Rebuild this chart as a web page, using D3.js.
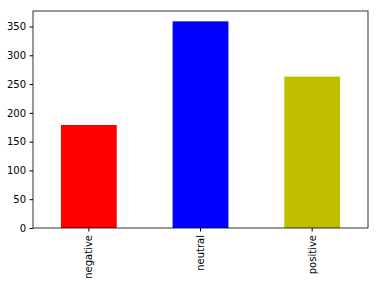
<!DOCTYPE html>
<html>
<head>
<meta charset="utf-8">
<script src="https://cdn.jsdelivr.net/npm/d3@7"></script>
<style>
  body { margin: 0; background: #fff; }
  text { font-family: "DejaVu Sans", sans-serif; }
</style>
</head>
<body>
<svg id="chart"></svg>
<script>
const categories = ['negative', 'neutral', 'positive']
const counts = [179, 359, 263]
const barColors = ['#ff0000', '#0000ff', '#bfbf00']
const yTicks = [0, 50, 100, 150, 200, 250, 300, 350]

const width = 378, height = 286
const margin = {top: 11, right: 10, bottom: 58, left: 33}
const innerW = width - margin.left - margin.right
const innerH = height - margin.top - margin.bottom

const svg = d3.select('#chart').attr('width', width).attr('height', height)
const g = svg.append('g').attr('transform', 'translate(' + margin.left + ',' + margin.top + ')')

// band scale with half-width bars, like pandas bar plots
const x = d3.scaleBand().domain(categories).range([0, innerW]).paddingInner(0.5).paddingOuter(0.25)
const y = d3.scaleLinear().domain([0, d3.max(counts) * 1.05]).range([innerH, 0])

g.selectAll('rect.bar')
  .data(categories)
  .enter()
  .append('rect')
    .attr('class', 'bar')
    .attr('x', d => x(d))
    .attr('y', (d, i) => y(counts[i]))
    .attr('width', x.bandwidth())
    .attr('height', (d, i) => innerH - y(counts[i]))
    .style('fill', (d, i) => barColors[i])

// Y axis
const yAxis = g.append('g')
  .call(d3.axisLeft(y).tickValues(yTicks).tickSize(3.5).tickPadding(3.5))
yAxis.select('.domain').remove()
yAxis.selectAll('text').style('font-size', '10px').attr('fill', '#000')
yAxis.selectAll('line').attr('stroke', '#000')

// X axis
const xAxis = g.append('g')
  .attr('transform', 'translate(0,' + innerH + ')')
  .call(d3.axisBottom(x).tickSize(3.5).tickPadding(3.5))
xAxis.select('.domain').remove()
xAxis.selectAll('line').attr('stroke', '#000')
xAxis.selectAll('text')
  .style('font-size', '10px')
  .attr('fill', '#000')
  .attr('text-anchor', 'end')
  .attr('dy', '0.35em')
  .attr('transform', 'translate(0,0) rotate(-90)')
  .attr('x', -7)
  .attr('y', 0)

// frame
g.append('rect')
  .attr('width', innerW)
  .attr('height', innerH)
  .attr('fill', 'none')
  .attr('stroke', '#000')
  .attr('stroke-width', 0.8)
</script>
</body>
</html>
